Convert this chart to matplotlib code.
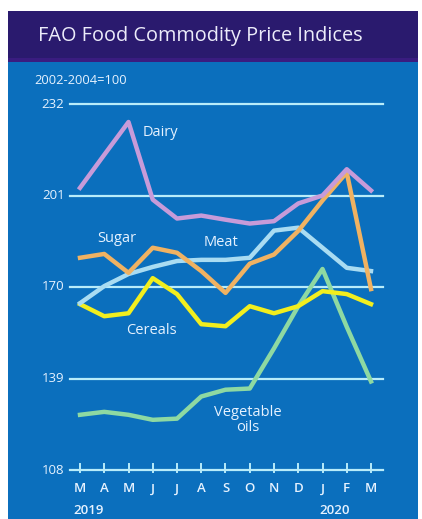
import matplotlib
matplotlib.use("Agg")
import matplotlib.pyplot as plt
from matplotlib.patches import Rectangle

months = ["M", "A", "M", "J", "J", "A", "S", "O", "N", "D", "J", "F", "M"]
years = ["2019", "2020"]
yticks = [108, 139, 170, 201, 232]

dairy = [203.6, 214.8, 225.9, 199.6, 193.2, 194.2, 192.8, 191.5, 192.3, 198.3, 201.0, 209.9, 202.7]
sugar = [179.9, 181.2, 174.8, 183.3, 181.6, 175.4, 168.0, 177.9, 181.0, 189.0, 199.3, 208.8, 169.3]
meat = [164.5, 170.3, 174.4, 176.8, 178.8, 179.2, 179.2, 179.9, 189.1, 190.1, 183.3, 176.5, 175.4]
cereals = [164.2, 160.1, 161.1, 173.0, 167.6, 157.4, 156.7, 163.5, 161.1, 163.5, 168.6, 167.6, 164.2]
vegoils = [126.7, 127.7, 126.7, 125.0, 125.4, 132.9, 135.2, 135.6, 149.2, 163.5, 176.1, 156.5, 138.0]

W, H = 422, 519
fig = plt.figure(figsize=(W / 100, H / 100), dpi=100)
fig.patch.set_facecolor("white")

def fx(px):
    return px / W

def fy(py):
    return 1 - py / H

# background panels
fig.patches.append(Rectangle((fx(8), 0), fx(410), fy(62), transform=fig.transFigure,
                             facecolor="#0b6fbd", edgecolor="none", zorder=-10))
fig.patches.append(Rectangle((fx(8), fy(62)), fx(410), (62 - 11) / H, transform=fig.transFigure,
                             facecolor="#2a1a6e", edgecolor="none", zorder=-10))
fig.patches.append(Rectangle((fx(8), fy(62)), fx(410), 4 / H, transform=fig.transFigure,
                             facecolor="#3a1c80", edgecolor="none", zorder=-10))

txt = "#e6f2ff"
fig.text(fx(38), fy(36), "FAO Food Commodity Price Indices", color="#ececfa",
         fontsize=14.3, family="Open Sans", va="center", ha="left")

ax = fig.add_axes([fx(70), fy(470), fx(313), (470 - 104) / H])
ax.set_facecolor("none")
ax.set_zorder(5)
x = list(range(len(months)))
ax.set_xlim(-10 / 24.25, 12 + 12 / 24.25)
ax.set_ylim(yticks[0], yticks[-1])
for s in ax.spines.values():
    s.set_visible(False)
ax.set_xticks([])
ax.set_yticks([])

grid_c = "#b8ecfa"
for v in yticks:
    ax.axhline(v, color=grid_c, lw=1.6, zorder=1, clip_on=False)
for xi in x:
    ax.plot([xi, xi], [yticks[0] - 0.7, yticks[0] + 2.0], color=grid_c, lw=1.4, clip_on=False)

for v in yticks:
    ax.text(-0.64, v, str(v), color=txt, fontsize=9.5, family="Open Sans",
            ha="right", va="center")
fig.text(fx(34), fy(80), "2002-2004=100", color=txt, fontsize=9.3, family="Open Sans",
         ha="left", va="center")

lw = 3.2
ax.plot(x, vegoils, color="#8ed9a2", lw=lw, zorder=3, clip_on=False)
ax.plot(x, cereals, color="#f2ee1e", lw=lw, zorder=4, clip_on=False)
ax.plot(x, meat, color="#a9dcf2", lw=lw, zorder=5, clip_on=False)
ax.plot(x, sugar, color="#f0b262", lw=lw, zorder=6, clip_on=False)
ax.plot(x, dairy, color="#c79bd9", lw=lw, zorder=7, clip_on=False)

lab_kw = dict(color=txt, fontsize=10.5, family="Open Sans")
fig.text(fx(143), fy(132), "Dairy", ha="left", va="center", **lab_kw)
fig.text(fx(97), fy(238), "Sugar", ha="left", va="center", **lab_kw)
fig.text(fx(204), fy(243), "Meat", ha="left", va="center", **lab_kw)
fig.text(fx(126), fy(331), "Cereals", ha="left", va="center", **lab_kw)
fig.text(fx(248), fy(420), "Vegetable\noils", ha="center", va="center",
         linespacing=0.95, **lab_kw)

for xi, m in zip(x, months):
    fig.text(fx(80 + xi * 24.25), fy(489), m, color=txt, fontsize=9.5, family="Open Sans",
             fontweight="semibold", ha="center", va="center")
fig.text(fx(73), fy(510), years[0], color=txt, fontsize=9.5, family="Open Sans",
         fontweight="semibold", ha="left", va="center")
fig.text(fx(335), fy(510), years[1], color=txt, fontsize=9.5, family="Open Sans",
         fontweight="semibold", ha="center", va="center")

fig.savefig("out.png", dpi=100, facecolor="white")
